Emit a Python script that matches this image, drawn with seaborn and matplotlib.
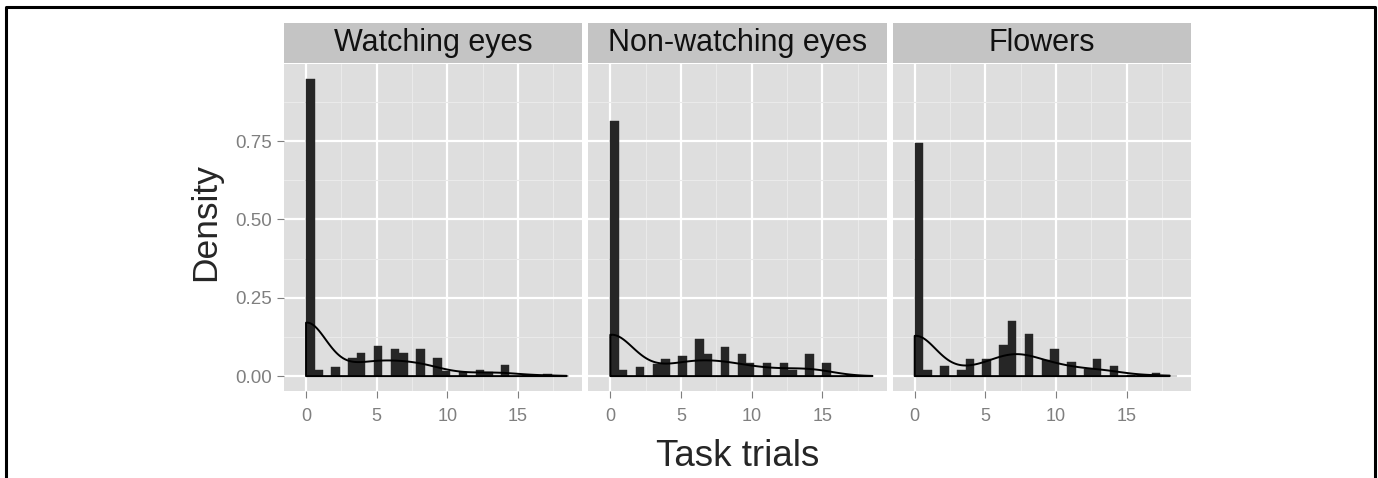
import numpy as np
import matplotlib
matplotlib.use("Agg")
import matplotlib.pyplot as plt
from matplotlib.lines import Line2D
from matplotlib.patches import Rectangle
from matplotlib.ticker import MultipleLocator, FormatStrFormatter
import seaborn as sns

# facets and x values (task trials 0..18)
panels = ["Watching eyes", "Non-watching eyes", "Flowers"]
trials = np.arange(0, 19)

# bar heights (density), one per trial count
dens_watching = [0.947, 0.021, 0.029, 0.057, 0.073, 0.095, 0.087, 0.073, 0.087, 0.057,
                 0.016, 0.014, 0.021, 0.013, 0.037, 0.0, 0.005, 0.007, 0.0]
dens_nonwatching = [0.814, 0.020, 0.028, 0.040, 0.056, 0.064, 0.119, 0.071, 0.093, 0.070,
                    0.042, 0.043, 0.042, 0.020, 0.071, 0.042, 0.0, 0.0, 0.0]
dens_flowers = [0.743, 0.021, 0.032, 0.021, 0.055, 0.055, 0.100, 0.177, 0.133, 0.050,
                0.088, 0.045, 0.023, 0.054, 0.033, 0.005, 0.0, 0.011, 0.0]
# where each density curve stops
kde_end = [18.45, 18.55, 18.05]

sns.set_theme(style="darkgrid", rc={
    "axes.facecolor": "#DEDEDE",
    "figure.facecolor": "white",
    "grid.color": "white",
})
plt.rcParams['font.family'] = ['Liberation Sans', 'DejaVu Sans']

fig, axes = plt.subplots(1, 3, figsize=(13.78, 4.78), dpi=100, sharey=True)
fig.subplots_adjust(left=284 / 1378, right=1191 / 1378, bottom=87 / 478, top=414 / 478, wspace=0.02)

# 0.6 wide bins, like ggplot's range/30
edges = [round(e, 6) for e in np.arange(0, 18.61, 0.6)]
all_dens = [dens_watching, dens_nonwatching, dens_flowers]

for i, ax in enumerate(axes):
    sns.histplot(x=trials, weights=all_dens[i], bins=edges, stat="count", color="#262626",
                 alpha=1, edgecolor="#262626", linewidth=0.3, ax=ax)
    sns.kdeplot(x=trials, weights=all_dens[i], bw_method=0.28, clip=(0, kde_end[i]),
                fill=True, color="black", facecolor="none", edgecolor="black", linewidth=1.4, ax=ax)
    ax.set_xlim(-1.56, 19.56)
    ax.set_ylim(-0.0475, 0.996)
    ax.xaxis.set_major_locator(MultipleLocator(5))
    ax.xaxis.set_minor_locator(MultipleLocator(2.5))
    ax.yaxis.set_major_locator(MultipleLocator(0.25))
    ax.yaxis.set_minor_locator(MultipleLocator(0.125))
    ax.yaxis.set_major_formatter(FormatStrFormatter("%.2f"))
    ax.grid(which="major", color="white", linewidth=1.6)
    ax.grid(which="minor", color="#EAEAEA", linewidth=0.8)
    ax.set_axisbelow(True)
    ax.tick_params(which="major", length=5, width=0.8, color="#7F7F7F", labelcolor="#7F7F7F",
                   labelsize=13.5, pad=4, bottom=True, left=(i == 0))
    ax.tick_params(axis="x", pad=7, labelsize=13)
    ax.tick_params(which="minor", length=0)
    ax.set_xlabel("")
    ax.set_ylabel("")
    for s in ax.spines.values():
        s.set_visible(False)
    # facet strip
    ax.add_patch(Rectangle((0, 1.004), 1, 0.122, transform=ax.transAxes, clip_on=False,
                           facecolor="#C4C4C4", edgecolor="none"))
    ax.text(0.5, 1.064, panels[i], transform=ax.transAxes, ha="center", va="center",
            fontsize=22, color="#111111")

fig.text(0.535, 0.025, "Task trials", ha="center", va="baseline", fontsize=26.5)
fig.text(0.149, 0.535, "Density", ha="center", va="center", rotation=90, fontsize=25.5)

# black frame around the picture (no bottom edge)
fig.add_artist(Line2D([6 / 1378, 6 / 1378, 1375 / 1378, 1375 / 1378], [0, 1 - 6.5 / 478, 1 - 6.5 / 478, 0],
                      transform=fig.transFigure, color="black", linewidth=2.2))

fig.savefig("out.png", dpi=100)
